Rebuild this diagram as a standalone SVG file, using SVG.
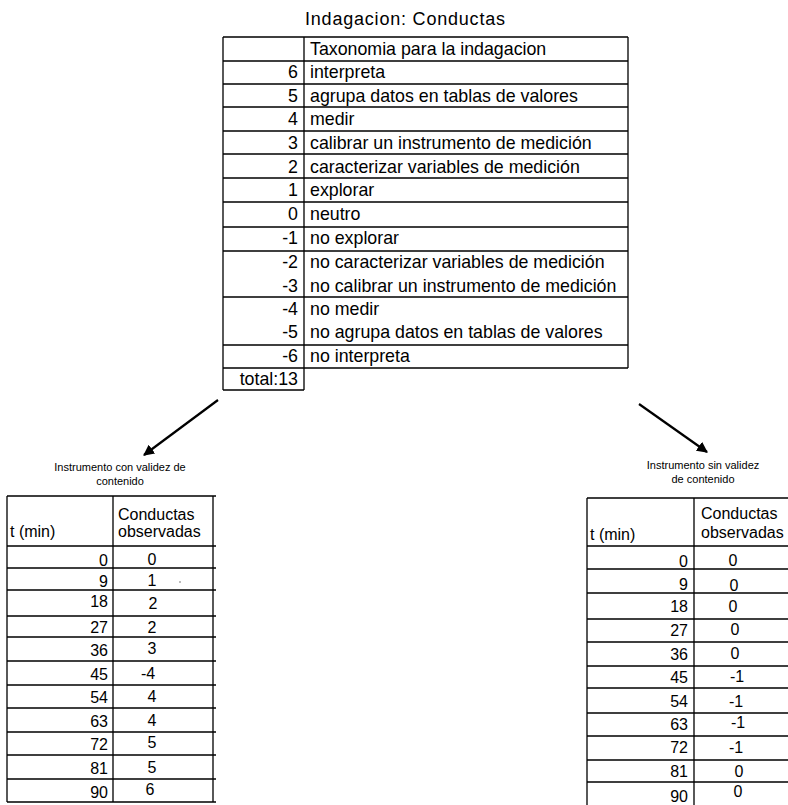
<svg xmlns="http://www.w3.org/2000/svg" width="788" height="805" viewBox="0 0 788 805">
<defs>
<style>
text{font-family:"Liberation Sans",Arial,sans-serif;fill:#000}
.t{font-size:17.8px}
.s{font-size:16px}
.lb{font-size:11px}
.r{text-anchor:end}
.c{text-anchor:middle}
.ln{stroke:#000;stroke-width:1.3;fill:none}
.conn{stroke:#000;stroke-width:2.2;fill:none}
</style>
<marker id="ah" viewBox="0 0 10 10" refX="9" refY="5" markerWidth="5" markerHeight="5" orient="auto" markerUnits="strokeWidth">
<path d="M0,0 L10,5 L0,10 z" fill="#000"/>
</marker>
</defs>
<rect width="788" height="805" fill="#fff"/>

<g id="title">
<text x="305" y="25" style="font-size:18px" textLength="200" lengthAdjust="spacing">Indagacion: Conductas</text>
</g>

<g id="taxonomy-table">
<path class="ln" d="M223,37H628M223,61H628M223,84H628M223,107H628M223,131H628M223,154H628M223,178H628M223,202H628M223,227H628M223,251H628M223,297H628M223,345H628M223,368H628M223,390H304M223,37V390M304,37V390M628,37V368"/>
<text class="t" x="310" y="55">Taxonomia para la indagacion</text>
<text class="t r" x="298" y="78">6</text><text class="t" x="310" y="78">interpreta</text>
<text class="t r" x="298" y="102">5</text><text class="t" x="310" y="102">agrupa datos en tablas de valores</text>
<text class="t r" x="298" y="125">4</text><text class="t" x="310" y="125">medir</text>
<text class="t r" x="298" y="149">3</text><text class="t" x="310" y="149">calibrar un instrumento de medición</text>
<text class="t r" x="298" y="173">2</text><text class="t" x="310" y="173">caracterizar variables de medición</text>
<text class="t r" x="298" y="196">1</text><text class="t" x="310" y="196">explorar</text>
<text class="t r" x="298" y="220">0</text><text class="t" x="310" y="220">neutro</text>
<text class="t r" x="298" y="244">-1</text><text class="t" x="310" y="244">no explorar</text>
<text class="t r" x="298" y="268">-2</text><text class="t" x="310" y="268">no caracterizar variables de medición</text>
<text class="t r" x="298" y="292">-3</text><text class="t" x="310" y="292">no calibrar un instrumento de medición</text>
<text class="t r" x="298" y="315">-4</text><text class="t" x="310" y="315">no medir</text>
<text class="t r" x="298" y="338">-5</text><text class="t" x="310" y="338">no agrupa datos en tablas de valores</text>
<text class="t r" x="298" y="362">-6</text><text class="t" x="310" y="362">no interpreta</text>
<text class="t r" x="298" y="385">total:13</text>
</g>

<g id="connectors">
<line class="conn" x1="218" y1="400" x2="144" y2="455" marker-end="url(#ah)"/>
<line class="conn" x1="639" y1="404" x2="707" y2="452" marker-end="url(#ah)"/>
</g>

<g id="label-left">
<text class="lb c" x="120" y="471">Instrumento con validez de</text>
<text class="lb c" x="120" y="485">contenido</text>
</g>

<g id="table-left">
<path class="ln" d="M7,496H216M7,546H216M7,568H216M7,590H216M7,616H216M7,637H216M7,661H216M7,685H216M7,708H216M7,732H216M7,755H216M7,779H216M7,802H216M7,496V802M113,496V802M213,496V802"/>
<text class="s" x="10" y="537">t (min)</text>
<text class="s" x="118" y="520">Conductas</text>
<text class="s" x="118" y="537">observadas</text>
<text class="s r" x="108" y="566">0</text><text class="s c" x="152" y="565">0</text>
<text class="s r" x="108" y="587">9</text><text class="s c" x="152" y="586">1</text>
<text class="s r" x="108" y="607">18</text><text class="s c" x="153" y="609">2</text>
<text class="s r" x="108" y="633">27</text><text class="s c" x="152" y="633">2</text>
<text class="s r" x="108" y="656">36</text><text class="s c" x="152" y="654">3</text>
<text class="s r" x="108" y="680">45</text><text class="s c" x="148" y="679">-4</text>
<text class="s r" x="108" y="703">54</text><text class="s c" x="152" y="702">4</text>
<text class="s r" x="108" y="727">63</text><text class="s c" x="152" y="726">4</text>
<text class="s r" x="108" y="750">72</text><text class="s c" x="152" y="748">5</text>
<text class="s r" x="108" y="774">81</text><text class="s c" x="152" y="773">5</text>
<text class="s r" x="108" y="798">90</text><text class="s c" x="150" y="795">6</text>
<circle cx="180" cy="582" r="0.8" fill="#666"/>
</g>

<g id="label-right">
<text class="lb c" x="703" y="469">Instrumento sin validez</text>
<text class="lb c" x="703" y="483">de contenido</text>
</g>

<g id="table-right">
<path class="ln" d="M587,498H788M587,546H788M587,569H788M587,593H788M587,619H788M587,642H788M587,666H788M587,688H788M587,713H788M587,736H788M587,760H788M587,782H788M587,498V805M694,498V805"/>
<text class="s" x="590" y="540">t (min)</text>
<text class="s" x="701" y="519">Conductas</text>
<text class="s" x="701" y="538">observadas</text>
<text class="s r" x="688" y="567">0</text><text class="s c" x="733" y="566">0</text>
<text class="s r" x="688" y="590">9</text><text class="s c" x="734" y="591">0</text>
<text class="s r" x="688" y="612">18</text><text class="s c" x="733" y="612">0</text>
<text class="s r" x="688" y="636">27</text><text class="s c" x="735" y="635">0</text>
<text class="s r" x="688" y="660">36</text><text class="s c" x="735" y="659">0</text>
<text class="s r" x="688" y="683">45</text><text class="s c" x="737" y="682">-1</text>
<text class="s r" x="688" y="707">54</text><text class="s c" x="736" y="707">-1</text>
<text class="s r" x="688" y="730">63</text><text class="s c" x="738" y="728">-1</text>
<text class="s r" x="688" y="753">72</text><text class="s c" x="736" y="753">-1</text>
<text class="s r" x="688" y="777">81</text><text class="s c" x="739" y="777">0</text>
<text class="s r" x="688" y="802">90</text><text class="s c" x="738" y="797">0</text>
</g>
</svg>
